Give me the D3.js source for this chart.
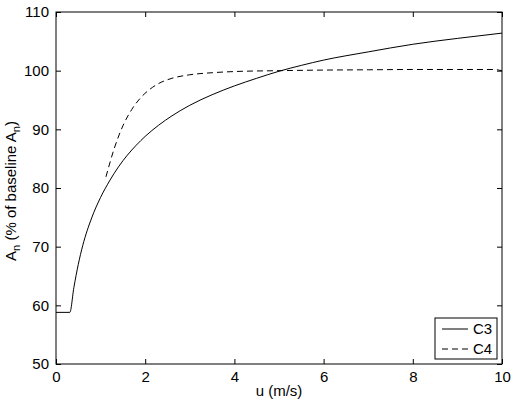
<!DOCTYPE html>
<html>
<head>
<meta charset="utf-8">
<script src="https://cdn.jsdelivr.net/npm/d3@7"></script>
<style>
  body { margin: 0; background: #fff; }
  text { font-family: "Liberation Sans", Arial, sans-serif; }
</style>
</head>
<body>
<div id="chart"></div>
<script>
// C3 curve (u in m/s, An in % of baseline)
const c3U = [0, 0.31, 0.4, 0.5, 0.6, 0.8, 1.0, 1.2, 1.4, 1.6, 1.8, 2.0, 2.3, 2.6, 3.0, 3.5, 4.0, 4.5, 5.0, 5.5, 6, 7, 8, 9, 10];
const c3A = [58.8, 58.8, 63.0, 67.0, 70.2, 74.9, 78.4, 81.2, 83.6, 85.6, 87.3, 88.8, 90.7, 92.3, 94.1, 95.9, 97.4, 98.7, 99.9, 100.9, 101.8, 103.2, 104.5, 105.5, 106.4];

// C4 curve
const c4U = [1.12, 1.3, 1.5, 1.7, 1.9, 2.1, 2.3, 2.6, 3.0, 3.5, 4.0, 5, 6, 7, 8, 9, 9.8, 10];
const c4A = [81.9, 86.6, 90.6, 93.4, 95.4, 96.8, 97.8, 98.7, 99.3, 99.65, 99.85, 100.0, 100.1, 100.15, 100.2, 100.2, 100.2, 100.0];

const xTicks = [0, 2, 4, 6, 8, 10];
const yTicks = [50, 60, 70, 80, 90, 100, 110];
const seriesNames = ["C3", "C4"];

const W = 514, H = 402;
const margin = {top: 12, right: 12, bottom: 38, left: 56},
      width = W - margin.left - margin.right,
      height = H - margin.top - margin.bottom;

const svg = d3.select("#chart").append("svg")
    .attr("width", W)
    .attr("height", H)
    .append("g")
    .attr("transform", `translate(${margin.left},${margin.top})`);

const x = d3.scaleLinear().domain([0, 10]).range([0, width]);
const y = d3.scaleLinear().domain([50, 110]).range([height, 0]);

// inward ticks on all four sides
const tk = 5;
svg.append("g")
    .attr("transform", `translate(0,${height})`)
    .call(d3.axisBottom(x).tickValues(xTicks).tickSizeInner(-tk).tickSizeOuter(0).tickPadding(7))
    .call(g => g.select(".domain").remove());
svg.append("g")
    .call(d3.axisTop(x).tickValues(xTicks).tickSizeInner(-tk).tickSizeOuter(0).tickFormat(""))
    .call(g => g.select(".domain").remove());
svg.append("g")
    .call(d3.axisLeft(y).tickValues(yTicks).tickSizeInner(-tk).tickSizeOuter(0).tickPadding(7))
    .call(g => g.select(".domain").remove());
svg.append("g")
    .attr("transform", `translate(${width},0)`)
    .call(d3.axisRight(y).tickValues(yTicks).tickSizeInner(-tk).tickSizeOuter(0).tickFormat(""))
    .call(g => g.select(".domain").remove());

svg.selectAll(".tick text")
    .attr("font-size", 15)
    .attr("font-family", "Liberation Sans, Arial, sans-serif")
    .attr("fill", "#000");
svg.selectAll(".tick line").attr("stroke", "#000");

// frame
svg.append("rect")
    .attr("width", width)
    .attr("height", height)
    .attr("fill", "none")
    .attr("stroke", "#000")
    .attr("stroke-width", 1);

const line = d3.line()
    .x(d => x(d[0]))
    .y(d => y(d[1]))
    .curve(d3.curveMonotoneX);

svg.append("path")
    .datum(d3.zip(c3U, c3A))
    .attr("fill", "none")
    .attr("stroke", "#000")
    .attr("stroke-width", 1)
    .attr("d", line);

svg.append("path")
    .datum(d3.zip(c4U, c4A))
    .attr("fill", "none")
    .attr("stroke", "#000")
    .attr("stroke-width", 1)
    .attr("stroke-dasharray", "6,4")
    .attr("d", line);

// axis labels
svg.append("text")
    .attr("x", width / 2)
    .attr("y", height + 32)
    .attr("text-anchor", "middle")
    .attr("font-size", 15)
    .text("u (m/s)");

const yl = svg.append("text")
    .attr("transform", `translate(${16 - margin.left},${height / 2 + 3}) rotate(-90)`)
    .attr("text-anchor", "middle")
    .attr("font-size", 15);
yl.append("tspan").text("A");
yl.append("tspan").attr("font-size", 11).attr("dy", 4).text("n");
yl.append("tspan").attr("dy", -4).text(" (% of baseline A");
yl.append("tspan").attr("font-size", 11).attr("dy", 4).text("n");
yl.append("tspan").attr("dy", -4).text(")");

// legend
const lg = svg.append("g").attr("transform", `translate(${width - 67},${height - 46})`);
lg.append("rect")
    .attr("width", 62)
    .attr("height", 41)
    .attr("fill", "#fff")
    .attr("stroke", "#000");
seriesNames.forEach((name, i) => {
    const yy = 11 + i * 20;
    lg.append("line")
        .attr("x1", 7).attr("x2", 33)
        .attr("y1", yy).attr("y2", yy)
        .attr("stroke", "#000")
        .attr("stroke-dasharray", i === 1 ? "6,4" : null);
    lg.append("text")
        .attr("x", 38)
        .attr("y", yy + 5)
        .attr("font-size", 15)
        .text(name);
});
</script>
</body>
</html>
